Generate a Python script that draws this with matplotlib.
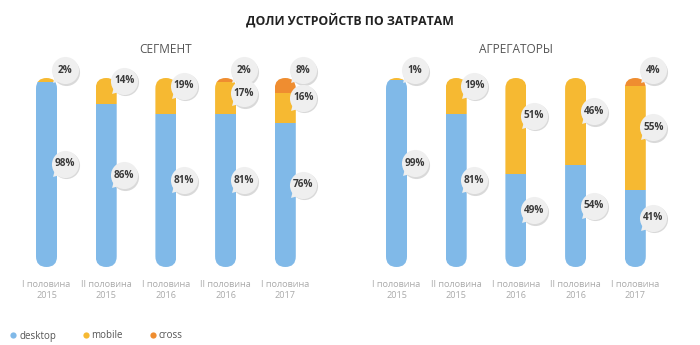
import numpy as np
import matplotlib.pyplot as plt
from matplotlib.patches import FancyBboxPatch
from matplotlib.lines import Line2D
from matplotlib.transforms import offset_copy

plt.rcParams['font.family'] = ['Open Sans', 'DejaVu Sans']

periods = ['I половина\n2015', 'II половина\n2015', 'I половина\n2016',
           'II половина\n2016', 'I половина\n2017']
seg_desktop = [98, 86, 81, 81, 76]
seg_mobile = [2, 14, 19, 17, 16]
seg_cross = [0, 0, 0, 2, 8]
agg_desktop = [99, 81, 49, 54, 41]
agg_mobile = [1, 19, 51, 46, 55]
agg_cross = [0, 0, 0, 0, 4]

series_names = ['desktop', 'mobile', 'cross']
colors = ['#80b9e8', '#f6b932', '#ef8d30']

fig = plt.figure(figsize=(7, 3.45), dpi=100)
fig.text(0.5, 1 - 20 / 345, 'ДОЛИ УСТРОЙСТВ ПО ЗАТРАТАМ', ha='center', va='center',
         fontsize=8.8, fontweight='bold', color='#222222')


def panel(ax, title, desktop, mobile, cross):
    x = np.arange(len(periods))
    ax.set_xlim(-0.779, 5.084)
    ax.set_ylim(-41.27, 141.27)
    ax.axis('off')
    # pixel size of one data unit
    p0 = ax.transData.transform((0, 0))
    p1 = ax.transData.transform((1, 1))
    pxx, pxy = p1[0] - p0[0], p1[1] - p0[1]
    w = 21 / pxx

    pills = []
    for xi in x:
        pill = FancyBboxPatch((xi - w / 2, 0), w, 100,
                              boxstyle=f"round,pad=0,rounding_size={w / 2}",
                              mutation_aspect=pxx / pxy, transform=ax.transData,
                              fc='none', ec='none')
        pills.append(pill)

    d = np.array(desktop, dtype=float)
    m = np.array(mobile, dtype=float)
    c = np.array(cross, dtype=float)
    stacks = [(d, 0), (m, d), (c, d + m)]
    for (vals, bottom), col in zip(stacks, colors):
        bars = ax.bar(x, vals, bottom=bottom, width=w, color=col, linewidth=0)
        for rect, pill in zip(bars, pills):
            rect.set_clip_path(pill)

    # speech-bubble labels
    for i, xi in enumerate(x):
        segs = []
        for vals, bottom in stacks:
            v = vals[i]
            b = bottom[i] if np.ndim(bottom) else 0
            if v > 0:
                segs.append((v, b + v / 2))
        prev = None
        for k, (v, center) in enumerate(reversed(segs)):
            y = center + 5.5
            if k == 0 and v <= 10:
                y = 104
            if prev is not None:
                y = min(y, prev - 12)
            prev = y
            sh = offset_copy(ax.transData, fig=fig, x=19, y=-1.5, units='dots')
            bt = offset_copy(ax.transData, fig=fig, x=18, y=0, units='dots')
            tl = offset_copy(ax.transData, fig=fig, x=9, y=-9, units='dots')
            ax.plot(xi, y, 'o', ms=19.5, mfc='#d9d9d9', mec='none', transform=sh, zorder=4)
            ax.plot(xi, y, marker=(3, 0, 135), ms=7, mfc='#efefef', mec='none',
                    transform=tl, zorder=5)
            ax.plot(xi, y, 'o', ms=19.5, mfc='#efefef', mec='none', transform=bt, zorder=5)
            ax.text(xi, y, f'{int(v)}%', transform=bt, ha='center', va='center',
                    fontsize=7.2, fontweight='bold', color='#3a3a3a', zorder=6)

    for xi, lab in zip(x, periods):
        ax.text(xi, -12.2, lab, ha='center', va='center', fontsize=6.6,
                color='#aaaaaa', linespacing=1.35)
    ax.text(2, 115.3, title, ha='center', va='center', fontsize=8.6, color='#555555')


ax1 = fig.add_axes([0, 0, 0.5, 1])
ax2 = fig.add_axes([0.5, 0, 0.5, 1])
panel(ax1, 'СЕГМЕНТ', seg_desktop, seg_mobile, seg_cross)
panel(ax2, 'АГРЕГАТОРЫ', agg_desktop, agg_mobile, agg_cross)

handles = [Line2D([], [], ls='none', marker='o', ms=4.5, mfc=col, mec='none') for col in colors]
fig.legend(handles, series_names, loc='center left', bbox_to_anchor=(11 / 700, 1 - 336 / 345),
           ncol=3, frameon=False, handlelength=0.5, handletextpad=0.35, columnspacing=2.8,
           fontsize=7, labelcolor='#555555', borderpad=0, borderaxespad=0)

fig.savefig('out.png', dpi=100, facecolor='white')
